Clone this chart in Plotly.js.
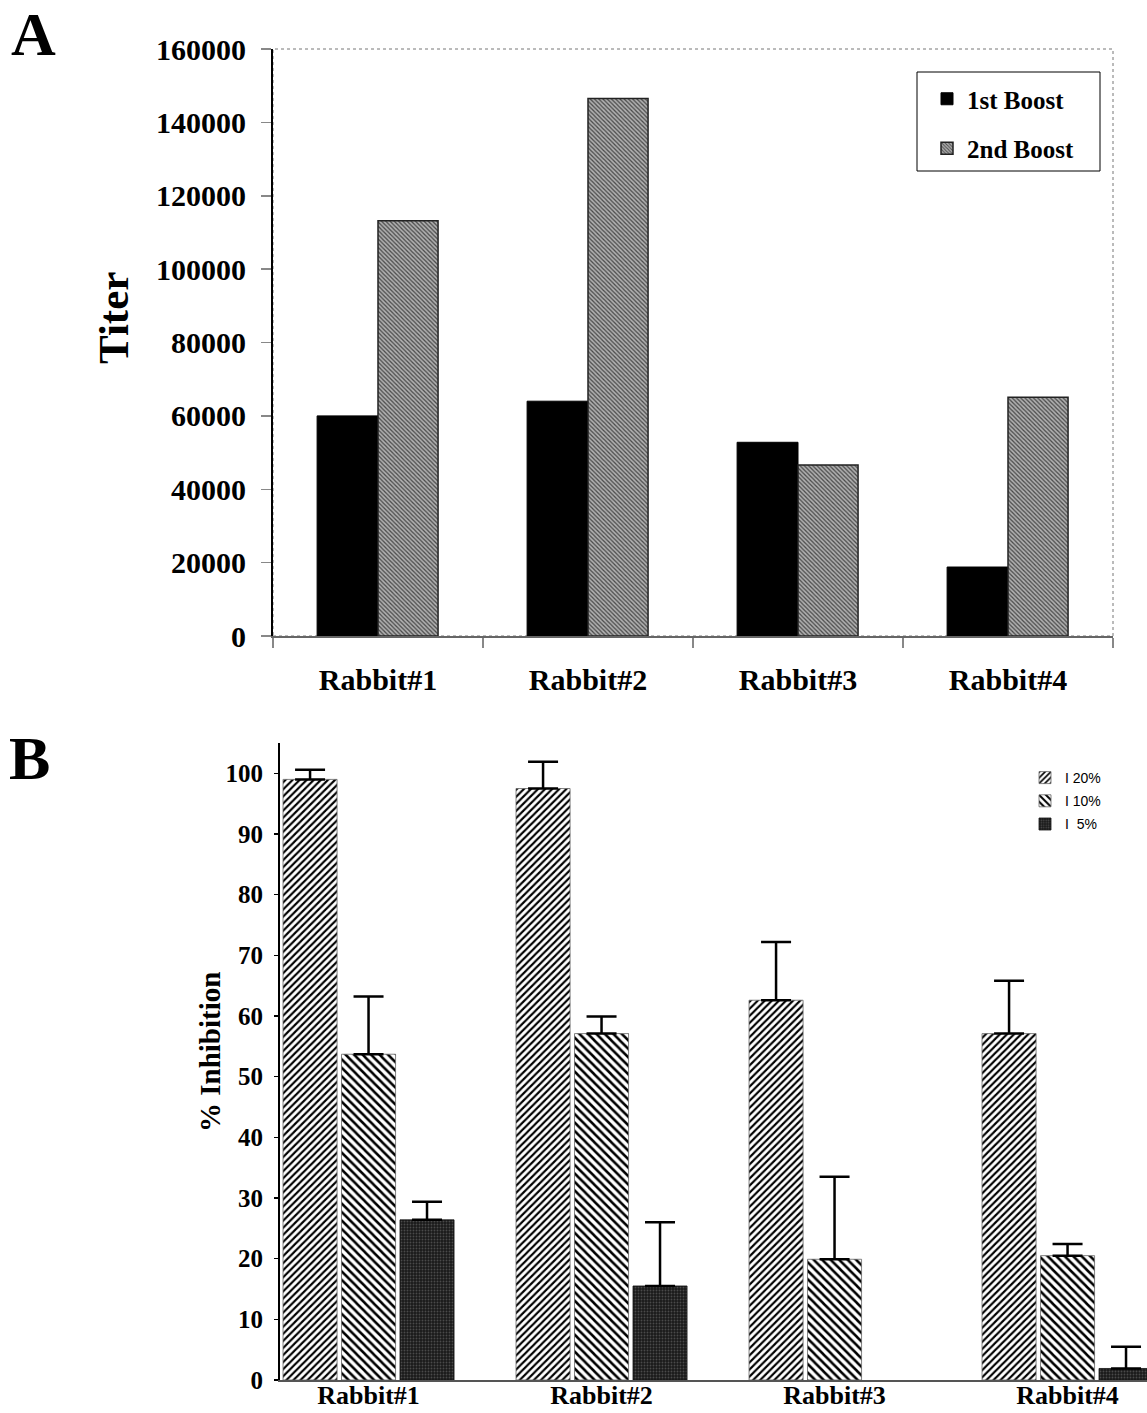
<!DOCTYPE html>
<html><head><meta charset="utf-8">
<script src="https://cdn.plot.ly/plotly-3.0.1.min.js"></script>
<style>html,body{margin:0;padding:0;background:#fff}</style>
</head><body><div id="chart" style="width:1147px;height:1413px"></div>
<script>
// ---- data ----
const rabbits = ['Rabbit#1', 'Rabbit#2', 'Rabbit#3', 'Rabbit#4'];
const titerBoost1 = [60000, 64000, 52800, 18800];
const titerBoost2 = [113200, 146500, 46600, 65100];
const inhib20 = [99.0, 97.5, 62.6, 57.1];
const inhib20Err = [1.6, 4.4, 9.6, 8.7];
const inhib10 = [53.7, 57.1, 19.9, 20.5];
const inhib10Err = [9.5, 2.8, 13.6, 1.9];
const inhib5 = [26.4, 15.5, null, 1.9];
const inhib5Err = [3.0, 10.5, null, 3.6];
const noDown = [0, 0, 0, 0];
const yTicksA = [0, 20000, 40000, 60000, 80000, 100000, 120000, 140000, 160000];
const yTicksB = [0, 10, 20, 30, 40, 50, 60, 70, 80, 90, 100];
const legendA = ['1st Boost', '2nd Boost'];
const legendB = ['I 20%', 'I 10%', 'I\u00a0 5%'];
const titleA = 'Titer';
const titleB = '% Inhibition';

const serif = 'Liberation Serif, Times New Roman, serif';
const errStyle = (arr) => ({type: 'data', array: arr, arrayminus: noDown, symmetric: false,
  color: '#000', thickness: 2.5, width: 15});

const traces = [
  {type: 'bar', name: legendA[0], x: rabbits, y: titerBoost1, xaxis: 'x', yaxis: 'y',
   offset: -0.29, width: 0.29, legend: 'legend', legendgroup: 'a1',
   marker: {color: '#000', line: {color: '#000', width: 1}}},
  {type: 'bar', name: legendA[1], x: rabbits, y: titerBoost2, xaxis: 'x', yaxis: 'y',
   offset: 0, width: 0.286, legend: 'legend', legendgroup: 'a2',
   marker: {color: '#b0b0b0', line: {color: '#222', width: 1.5},
     pattern: {shape: '\\', fgcolor: '#4a4a4a', bgcolor: '#b0b0b0', size: 3, solidity: 0.42}}},
  {type: 'bar', name: legendB[0], x: rabbits, y: inhib20, xaxis: 'x2', yaxis: 'y2',
   offset: -0.367, width: 0.232, legend: 'legend2', legendgroup: 'b1',
   error_y: errStyle(inhib20Err),
   marker: {color: '#fff', line: {color: '#666', width: 0.8},
     pattern: {shape: '/', fgcolor: '#000', bgcolor: '#fff', size: 5, solidity: 0.42}}},
  {type: 'bar', name: legendB[1], x: rabbits, y: inhib10, xaxis: 'x2', yaxis: 'y2',
   offset: -0.116, width: 0.232, legend: 'legend2', legendgroup: 'b2',
   error_y: errStyle(inhib10Err),
   marker: {color: '#fff', line: {color: '#666', width: 0.8},
     pattern: {shape: '\\', fgcolor: '#000', bgcolor: '#fff', size: 6, solidity: 0.42}}},
  {type: 'bar', name: legendB[2], x: rabbits, y: inhib5, xaxis: 'x2', yaxis: 'y2',
   offset: 0.135, width: 0.232, legend: 'legend2', legendgroup: 'b3',
   error_y: errStyle(inhib5Err),
   marker: {color: '#1a1a1a', line: {color: '#111', width: 0.8},
     pattern: {shape: '.', fgcolor: '#4a4a4a', bgcolor: '#1a1a1a', size: 3, solidity: 0.3}}}
];

const tickFontA = {family: serif, size: 30, weight: 'bold', color: '#000'};
const tickFontB = {family: serif, size: 25, weight: 'bold', color: '#000'};

const layout = {
  width: 1147, height: 1413,
  margin: {l: 0, r: 0, t: 0, b: 0},
  paper_bgcolor: '#fff', plot_bgcolor: 'rgba(0,0,0,0)',
  barmode: 'overlay',
  font: {family: serif, color: '#000'},
  xaxis: {domain: [273/1147, 1113/1147], anchor: 'y', type: 'category',
    range: [-0.5, 3.5], showline: true, linecolor: '#666', linewidth: 1.5,
    ticks: 'outside', tickson: 'boundaries', ticklen: 10, tickcolor: '#888', tickwidth: 1.5,
    ticklabelstandoff: 16, tickfont: tickFontA, showgrid: false, zeroline: false, fixedrange: true},
  yaxis: {domain: [(1413-636)/1413, (1413-49)/1413], anchor: 'x',
    range: [0, 160000], tickvals: yTicksA, ticktext: yTicksA.map(String),
    showline: true, linecolor: '#000', linewidth: 2,
    ticks: 'outside', ticklen: 10, tickcolor: '#888', tickwidth: 1.5, ticklabelstandoff: 9,
    tickfont: tickFontA, showgrid: false, zeroline: false},
  xaxis2: {domain: [280/1147, 1], anchor: 'y2', type: 'category',
    range: [-0.38, 3.341], showline: true, linecolor: '#555', linewidth: 1.5,
    ticks: '', ticklabelstandoff: -9, tickfont: {family: serif, size: 26, weight: 'bold', color: '#000'},
    showgrid: false, zeroline: false},
  yaxis2: {domain: [33/1413, (1413-743)/1413], anchor: 'x2',
    range: [0, 105], tickvals: yTicksB, ticktext: yTicksB.map(String),
    showline: true, linecolor: '#000', linewidth: 2,
    ticks: 'outside', ticklen: 4, tickcolor: '#000', tickwidth: 1.5, ticklabelstandoff: 6,
    tickfont: tickFontB, showgrid: false, zeroline: false},
  legend: {x: 927/1147, y: 1 - 76/1413, xanchor: 'left', yanchor: 'top',
    bgcolor: 'rgba(0,0,0,0)', borderwidth: 0,
    font: {family: serif, size: 25, weight: 'bold', color: '#000'},
    traceorder: 'grouped', tracegroupgap: 14, itemwidth: 30},
  legend2: {x: 1025/1147, y: 1 - 762/1413, xanchor: 'left', yanchor: 'top',
    bgcolor: 'rgba(0,0,0,0)', borderwidth: 0,
    font: {family: 'Liberation Sans, Arial, sans-serif', size: 14, color: '#000'},
    traceorder: 'grouped', tracegroupgap: 2, itemwidth: 30},
  shapes: [
    {type: 'rect', xref: 'x domain', yref: 'y domain', x0: 0, x1: 1, y0: 0, y1: 1,
     line: {color: '#777', width: 1, dash: 'dot'}, layer: 'below'},
    {type: 'rect', xref: 'paper', yref: 'paper', x0: 917/1147, x1: 1100/1147,
     y0: 1 - 171/1413, y1: 1 - 72/1413, line: {color: '#000', width: 1}, fillcolor: 'rgba(0,0,0,0)', layer: 'below'}
  ],
  annotations: [
    {text: 'A', xref: 'paper', yref: 'paper', x: 33/1147, y: 1 - 34/1413,
     xanchor: 'center', yanchor: 'middle', showarrow: false,
     font: {family: serif, size: 62, weight: 'bold', color: '#000'}},
    {text: 'B', xref: 'paper', yref: 'paper', x: 29/1147, y: 1 - 758/1413,
     xanchor: 'center', yanchor: 'middle', showarrow: false,
     font: {family: serif, size: 62, weight: 'bold', color: '#000'}},
    {text: titleA, xref: 'paper', yref: 'paper', x: 114/1147, y: 1 - 318/1413,
     xanchor: 'center', yanchor: 'middle', textangle: -90, showarrow: false,
     font: {family: serif, size: 43, weight: 'bold', color: '#000'}},
    {text: titleB, xref: 'paper', yref: 'paper', x: 210/1147, y: 1 - 1052/1413,
     xanchor: 'center', yanchor: 'middle', textangle: -90, showarrow: false,
     font: {family: serif, size: 29, weight: 'bold', color: '#000'}}
  ],
  showlegend: true
};

Plotly.newPlot('chart', traces, layout, {displayModeBar: false, staticPlot: true});
</script>
</body></html>
